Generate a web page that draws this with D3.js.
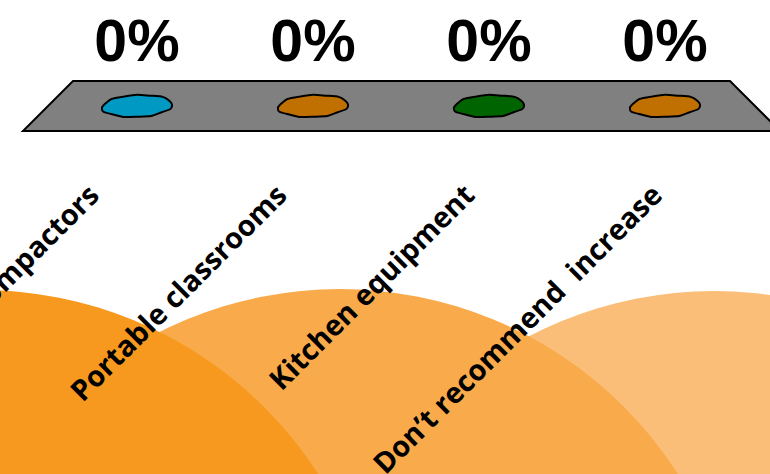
<!DOCTYPE html>
<html>
<head>
<meta charset="utf-8">
<script src="https://cdn.jsdelivr.net/npm/d3@7/dist/d3.min.js"></script>
<style>
  html, body { margin: 0; padding: 0; background: #ffffff; overflow: hidden; }
  svg { display: block; }
</style>
</head>
<body>
<svg id="chart" width="770" height="474"></svg>
<script>
// Poll answers and their response shares
const categories = ["Trash compactors", "Portable classrooms", "Kitchen equipment", "Don\u2019t recommend  increase"];
const shares = [0, 0, 0, 0];
const barColors = ["#0099C4", "#C07000", "#006400", "#C07000"];

// Decorative background discs (drawn back to front)
const discColors = ["#FBBE78", "#F9AB4B", "#F7991E"];

const W = 770, H = 474;
const svg = d3.select("#chart");

// ---- background discs ----
const discs = [
  { cx: 714, cy: 692, r: 401, fill: discColors[0] },
  { cx: 340, cy: 690, r: 401, fill: discColors[1] },
  { cx: -19, cy: 691, r: 401, fill: discColors[2] }
];
svg.append("g").selectAll("circle").data(discs).join("circle")
  .attr("cx", d => d.cx).attr("cy", d => d.cy).attr("r", d => d.r)
  .attr("fill", d => d.fill);

// ---- scales ----
const x = d3.scaleBand().domain(categories).range([49, 753]).paddingInner(0.5).paddingOuter(0.25);
const xc = c => x(c) + x.bandwidth() / 2;
const y = d3.scaleLinear().domain([0, 1]).range([106, -300]);
const xLabel = d3.scalePoint().domain(categories).range([101, 664]);

// ---- floor platform ----
const floorTop = 81, floorBottom = 131;
const fx0 = x.range()[0] + 24, fx1 = x.range()[1] - 23;
const depth = floorBottom - floorTop;
svg.append("path")
  .attr("d", d3.line()([[fx0, floorTop], [fx1, floorTop], [fx1 + depth, floorBottom], [fx0 - depth, floorBottom]]) + "Z")
  .attr("fill", "#808080")
  .attr("stroke", "#000")
  .attr("stroke-width", 2)
  .attr("stroke-linejoin", "miter");

// ---- bars: zero-height columns show only their wobbly base ----
const wobble = [1.00, 1.03, 0.97, 1.05, 0.98, 1.02, 0.96, 1.04, 1.00, 0.97, 1.03, 0.98, 1.02, 0.96, 1.04, 0.99];
const rx = 35, ry = 11;
const blob = d3.line().curve(d3.curveCardinalClosed.tension(0.3));
function blobPath(cx, cy) {
  const pts = wobble.map((k, i) => {
    const a = (i / wobble.length) * 2 * Math.PI;
    return [cx + Math.cos(a) * rx * k, cy + Math.sin(a) * ry * k - Math.cos(a) * 1.5];
  });
  return blob(pts);
}
const bars = svg.append("g").selectAll("g").data(categories).join("g");
bars.append("path")
  .attr("d", (c, i) => {
    const top = y(shares[i]);
    const cx = xc(c);
    if (y(0) - top > 0.5) {
      return `M${cx - rx},${y(0)}V${top}A${rx},${ry} 0 0 1 ${cx + rx},${top}V${y(0)}Z` ;
    }
    return blobPath(cx, top);
  })
  .attr("fill", (c, i) => barColors[i])
  .attr("stroke", "#000")
  .attr("stroke-width", 2);

// ---- value labels ----
const fmt = d3.format(".0%");
svg.append("g").selectAll("text").data(categories).join("text")
  .attr("x", c => xc(c))
  .attr("y", (c, i) => y(shares[i]) - 45)
  .attr("text-anchor", "middle")
  .attr("font-family", "'Liberation Sans', Arial, sans-serif")
  .attr("font-weight", "bold")
  .attr("font-size", 59)
  .attr("fill", "#000")
  .text((c, i) => fmt(shares[i]));

// ---- rotated category labels ----
svg.append("g").selectAll("text").data(categories).join("text")
  .attr("transform", c => `translate(${xLabel(c)},197) rotate(-45)`)
  .attr("text-anchor", "end")
  .attr("font-family", "'Open Sans', Lato, sans-serif")
  .attr("font-weight", "bold")
  .attr("font-size", 28.8)
  .attr("fill", "#000")
  .attr("xml:space", "preserve")
  .style("white-space", "pre")
  .text(c => c);
</script>
</body>
</html>
